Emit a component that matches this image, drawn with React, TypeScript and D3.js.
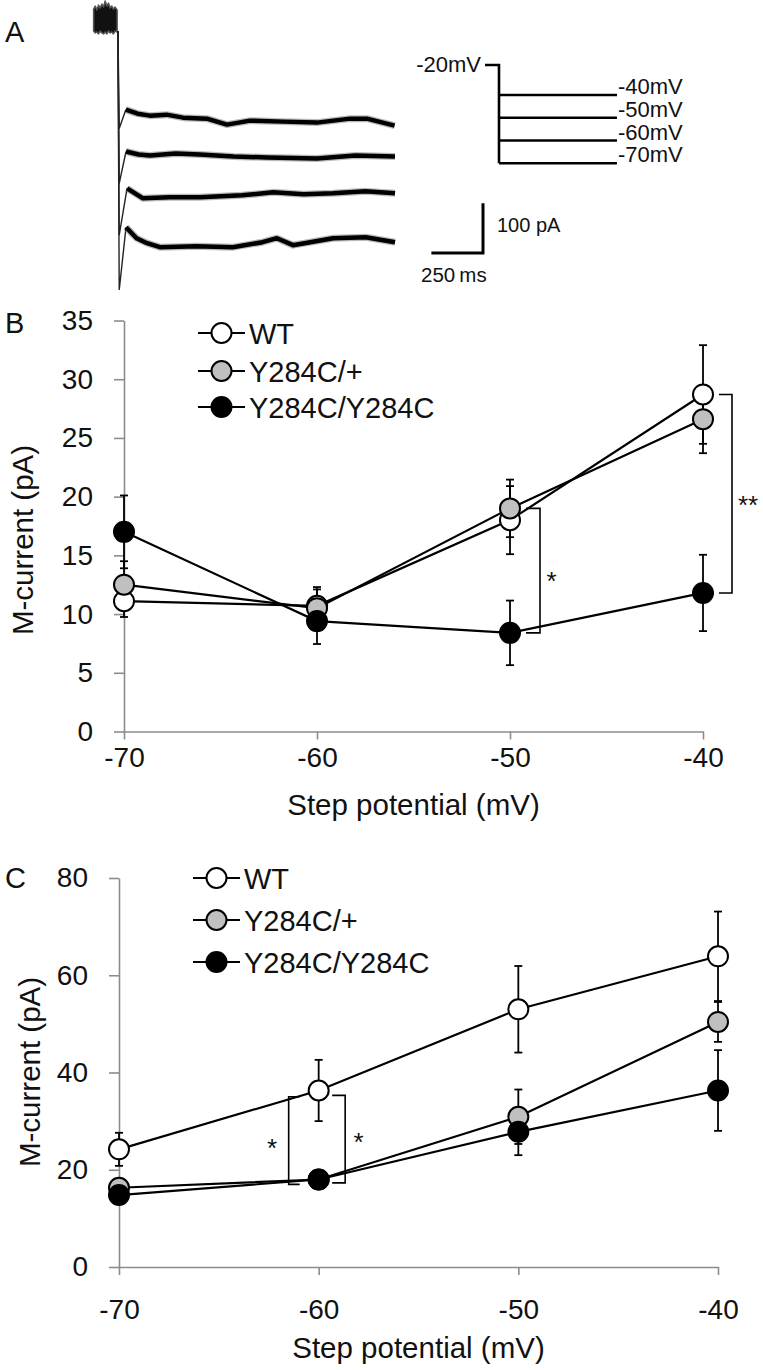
import { useEffect, useRef } from "react";
import * as d3 from "d3";

const FONT = "'Liberation Sans', Arial, Helvetica, sans-serif";
const AXIS_GREY = "#8c8c8c";

// ---- shared categories / series ----
const steps = [-70, -60, -50, -40];
const seriesNames = ["WT", "Y284C/+", "Y284C/Y284C"];
const seriesFills = ["#ffffff", "#c0c0c0", "#000000"];

// ---- panel B (mean, SEM) ----
const bWT = [11.1, 10.7, 18.0, 28.7];
const bWTErr = [1.35, 1.4, 2.9, 4.2];
const bHet = [12.5, 10.5, 19.0, 26.6];
const bHetErr = [2.0, 1.8, 2.45, 2.9];
const bHom = [17.0, 9.4, 8.4, 11.8];
const bHomErr = [3.1, 1.95, 2.75, 3.25];
const bTicks = [0, 5, 10, 15, 20, 25, 30, 35];

// ---- panel C (mean, SEM) ----
const cWT = [24.2, 36.3, 53.0, 63.9];
const cWTErr = [3.4, 6.3, 8.9, 9.2];
const cHet = [16.3, 18.0, 30.9, 50.4];
const cHetErr = [1.0, 1.0, 5.6, 4.1];
const cHom = [14.8, 18.0, 27.8, 36.3];
const cHomErr = [1.0, 1.0, 4.8, 8.3];
const cTicks = [0, 20, 40, 60, 80];

// significance brackets: step, upper / lower value
const bBrackets = [
  { step: -50, top: 19.0, bottom: 8.4, label: "*" },
  { step: -40, top: 28.7, bottom: 11.8, label: "**" },
];
const cBrackets = [
  { step: -60, top: 35.0, bottom: 17.0, label: "*" },
  { step: -60, top: 35.3, bottom: 17.3, label: "*" },
];

// ---- panel A: sample traces (ms, pA, relative to holding at -20 mV) ----
// holding segment as noise envelope: [ms, upper pA, lower pA]
const prePulse = [
  [-118, 24, -20], [-110, 30, -24], [-102, 22, -22], [-94, 32, -26], [-86, 26, -20],
  [-78, 34, -24], [-70, 28, -26], [-62, 40, -22], [-54, 30, -26], [-46, 36, -20],
  [-38, 26, -24], [-30, 30, -22], [-22, 24, -26], [-14, 28, -20], [-4, 22, -22],
];
const traceM40 = [
  [0, -20], [6, -216], [38, -178], [95, -186], [155, -190], [235, -188], [315, -194],
  [431, -196], [528, -208], [640, -200], [800, -202], [964, -204], [1124, -196],
  [1206, -196], [1340, -210],
];
const traceM50 = [
  [0, -20], [6, -326], [39, -262], [100, -268], [155, -270], [280, -266], [397, -268],
  [560, -272], [722, -274], [964, -276], [1150, -270], [1342, -272],
];
const traceM60 = [
  [0, -20], [6, -430], [44, -336], [121, -356], [250, -354], [397, -354], [600, -350],
  [751, -344], [900, -348], [1042, -346], [1200, -342], [1342, -346],
];
const traceM70 = [
  [0, -20], [6, -540], [39, -414], [90, -436], [141, -446], [203, -454], [380, -452],
  [557, -454], [700, -444], [770, -436], [848, -450], [1042, -436], [1200, -434], [1342, -444],
];
const traces = [traceM40, traceM50, traceM60, traceM70];
const protocolSteps = [-40, -50, -60, -70];
const holdingMv = -20;
const scaleBarMs = 250;
const scaleBarPa = 100;

type Series = { name: string; fill: string; values: number[]; errors: number[] };
type Bracket = { step: number; top: number; bottom: number; label: string };

type ChartProps = {
  series: Series[];
  yTicks: number[];
  yMax: number;
  xRange: [number, number];
  yRange: [number, number];
  xPad: number;
  brackets: Bracket[];
  bracketStyle: { dx: number; arm: number; starDx: number; starDy: number }[];
  legendX: number;
  legendY: number[];
  yTitleX: number;
  yTitleY: number;
  xTitleY: number;
  panel: string;
  panelY: number;
};

function Chart(p: ChartProps) {
  const xRef = useRef<SVGGElement>(null);
  const yRef = useRef<SVGGElement>(null);

  const x = d3.scaleLinear().domain([-70, -40]).range(p.xRange);
  const y = d3.scaleLinear().domain([0, p.yMax]).range(p.yRange);

  useEffect(() => {
    const xAxis = d3
      .axisBottom(x)
      .tickValues(steps)
      .tickSize(8)
      .tickSizeOuter(0)
      .tickPadding(p.xPad)
      .tickFormat((d) => `${d}`);
    const yAxis = d3
      .axisLeft(y)
      .tickValues(p.yTicks)
      .tickSize(10)
      .tickSizeOuter(0)
      .tickPadding(21)
      .tickFormat((d) => `${d}`);

    const gx = d3.select(xRef.current!).call(xAxis as any);
    const gy = d3.select(yRef.current!).call(yAxis as any);
    [gx, gy].forEach((g) => {
      g.attr("font-size", null).attr("font-family", null);
      g.select(".domain").attr("stroke", AXIS_GREY).attr("stroke-width", 1.6);
      g.selectAll(".tick line").attr("stroke", AXIS_GREY).attr("stroke-width", 1.6);
      g.selectAll(".tick text")
        .attr("font-size", 28)
        .attr("font-family", FONT)
        .attr("fill", "#111");
    });
  });

  const line = d3
    .line<number>()
    .x((_, i) => x(steps[i]))
    .y((d) => y(d));

  const cap = 4;
  const r = 10;

  return (
    <g>
      <g ref={xRef} transform={`translate(0,${p.yRange[0]})`} />
      <g ref={yRef} transform={`translate(${p.xRange[0]},0)`} />

      <text
        x={(p.xRange[0] + p.xRange[1]) / 2}
        y={p.xTitleY}
        textAnchor="middle"
        fontSize={29.5}
        fontFamily={FONT}
        fill="#111"
      >
        Step potential (mV)
      </text>
      <text
        transform={`translate(${p.yTitleX},${p.yTitleY}) rotate(-90)`}
        textAnchor="middle"
        dominantBaseline="central"
        fontSize={29.5}
        fontFamily={FONT}
        fill="#111"
      >
        M-current (pA)
      </text>
      <text x={5} y={p.panelY} fontSize={29} fontFamily={FONT} fill="#111">
        {p.panel}
      </text>

      {/* error bars */}
      {p.series.map((s) => (
        <g key={s.name + "err"} stroke="#000" strokeWidth={1.8}>
          {s.values.map((v, i) => {
            const cx = x(steps[i]);
            const hi = y(v + s.errors[i]);
            const lo = y(v - s.errors[i]);
            return (
              <g key={i}>
                <line x1={cx} x2={cx} y1={hi} y2={lo} />
                <line x1={cx - cap} x2={cx + cap} y1={hi} y2={hi} />
                <line x1={cx - cap} x2={cx + cap} y1={lo} y2={lo} />
              </g>
            );
          })}
        </g>
      ))}

      {/* lines */}
      {p.series.map((s) => (
        <path key={s.name + "line"} d={line(s.values)!} fill="none" stroke="#000" strokeWidth={2.2} />
      ))}

      {/* markers */}
      {p.series.map((s) => (
        <g key={s.name + "pts"}>
          {s.values.map((v, i) => (
            <circle key={i} cx={x(steps[i])} cy={y(v)} r={r} fill={s.fill} stroke="#000" strokeWidth={2} />
          ))}
        </g>
      ))}

      {/* significance brackets */}
      {p.brackets.map((b, i) => {
        const st = p.bracketStyle[i];
        const bx = x(b.step) + st.dx;
        const yt = y(b.top);
        const yb = y(b.bottom);
        return (
          <g key={"br" + i}>
            <path
              d={`M${bx + st.arm},${yt}H${bx}V${yb}H${bx + st.arm}`}
              fill="none"
              stroke="#000"
              strokeWidth={1.6}
            />
            <text
              x={bx + st.starDx}
              y={(yt + yb) / 2 + st.starDy}
              textAnchor="middle"
              fontSize={26}
              fontFamily={FONT}
              fill="#111"
            >
              {b.label}
            </text>
          </g>
        );
      })}

      {/* legend */}
      {p.series.map((s, i) => (
        <g key={s.name + "leg"}>
          <line x1={p.legendX} x2={p.legendX + 47} y1={p.legendY[i]} y2={p.legendY[i]} stroke="#000" strokeWidth={2.2} />
          <circle cx={p.legendX + 23.5} cy={p.legendY[i]} r={r} fill={s.fill} stroke="#000" strokeWidth={2} />
          <text x={p.legendX + 51} y={p.legendY[i] + 10.5} fontSize={29} fontFamily={FONT} fill="#111">
            {s.name}
          </text>
        </g>
      ))}
    </g>
  );
}

function PanelA() {
  const t = d3.scaleLinear().domain([-120, 1340]).range([93.2, 394.6]);
  const iA = d3.scaleLinear().domain([0, -540]).range([21, 290]);
  const trace = d3
    .line<number[]>()
    .x((d) => t(d[0]))
    .y((d) => iA(d[1]));
  const band = d3
    .area<number[]>()
    .x((d) => t(d[0]))
    .y0((d) => iA(d[2]))
    .y1((d) => iA(d[1]));

  const v = d3.scaleLinear().domain([-70, -40, -20]).range([163.3, 95, 65]);
  const preX = 485;
  const stepX0 = 499;
  const stepX1 = 617;

  const barX = 483;
  const barY = 253;
  const barW = t(scaleBarMs) - t(0);
  const barH = iA(-scaleBarPa) - iA(0);

  return (
    <g>
      <text x={5} y={42} fontSize={29} fontFamily={FONT} fill="#111">
        A
      </text>
      {/* holding segment (noise band) */}
      <path d={band(prePulse)!} fill="#111" stroke="#555" strokeWidth={1.5} strokeLinejoin="round" />
      {traces.map((tr, k) => (
        <g key={k}>
          <path d={trace(tr.slice(0, 3))!} fill="none" stroke="#222" strokeWidth={1.4} />
          <path d={trace(tr.slice(2))!} fill="none" stroke="#666" strokeWidth={7} strokeLinejoin="round" opacity={0.45} />
          <path d={trace(tr.slice(2))!} fill="none" stroke="#000" strokeWidth={4.5} strokeLinejoin="round" />
        </g>
      ))}

      {/* voltage protocol */}
      <path
        d={`M${preX},${v(holdingMv)}H${stepX0}V${v(-70)}`}
        fill="none"
        stroke="#000"
        strokeWidth={2.6}
      />
      {protocolSteps.map((mv) => (
        <g key={mv}>
          <line x1={stepX0} x2={stepX1} y1={v(mv)} y2={v(mv)} stroke="#000" strokeWidth={2.6} />
          <text x={stepX1 + 1} y={v(mv) - 1} fontSize={22} fontFamily={FONT} fill="#111">
            {`${mv}mV`}
          </text>
        </g>
      ))}
      <text x={481} y={v(holdingMv) + 7} textAnchor="end" fontSize={22} fontFamily={FONT} fill="#111">
        {`${holdingMv}mV`}
      </text>

      {/* scale bars */}
      <path
        d={`M${barX - barW},${barY}H${barX}V${barY - barH}`}
        fill="none"
        stroke="#000"
        strokeWidth={3}
      />
      <text x={497} y={232} fontSize={20} fontFamily={FONT} fill="#111">
        {`${scaleBarPa} pA`}
      </text>
      <text x={421} y={282} fontSize={20.5} fontFamily={FONT} fill="#111">
        {`${scaleBarMs}\u2009ms`}
      </text>
    </g>
  );
}

const bSeries: Series[] = [
  { name: seriesNames[0], fill: seriesFills[0], values: bWT, errors: bWTErr },
  { name: seriesNames[1], fill: seriesFills[1], values: bHet, errors: bHetErr },
  { name: seriesNames[2], fill: seriesFills[2], values: bHom, errors: bHomErr },
];
const cSeries: Series[] = [
  { name: seriesNames[0], fill: seriesFills[0], values: cWT, errors: cWTErr },
  { name: seriesNames[1], fill: seriesFills[1], values: cHet, errors: cHetErr },
  { name: seriesNames[2], fill: seriesFills[2], values: cHom, errors: cHomErr },
];

export default function App() {
  return (
    <div style={{ position: "absolute", left: 0, top: 0 }}>
      <svg width={763} height={1370} viewBox="0 0 763 1370" style={{ display: "block", background: "#fff" }}>
        <rect width={763} height={1370} fill="#fff" />
        <PanelA />
        <Chart
          series={bSeries}
          yTicks={bTicks}
          yMax={35}
          xRange={[124, 703]}
          yRange={[731.5, 320.5]}
          xPad={8}
          brackets={bBrackets}
          bracketStyle={[
            { dx: 30, arm: -14, starDx: 11.5, starDy: 19 },
            { dx: 29, arm: -13, starDx: 16, starDy: 20 },
          ]}
          legendX={198}
          legendY={[333, 371, 407]}
          yTitleX={22}
          yTitleY={540}
          xTitleY={815}
          panel="B"
          panelY={333}
        />
        <Chart
          series={cSeries}
          yTicks={cTicks}
          yMax={80}
          xRange={[119, 718]}
          yRange={[1267, 878]}
          xPad={24}
          brackets={cBrackets}
          bracketStyle={[
            { dx: -30, arm: 11, starDx: -16.5, starDy: 16 },
            { dx: 26.5, arm: -13, starDx: 13.5, starDy: 12 },
          ]}
          legendX={193}
          legendY={[878, 920, 962]}
          yTitleX={29}
          yTitleY={1072}
          xTitleY={1358}
          panel="C"
          panelY={888}
        />
      </svg>
    </div>
  );
}
